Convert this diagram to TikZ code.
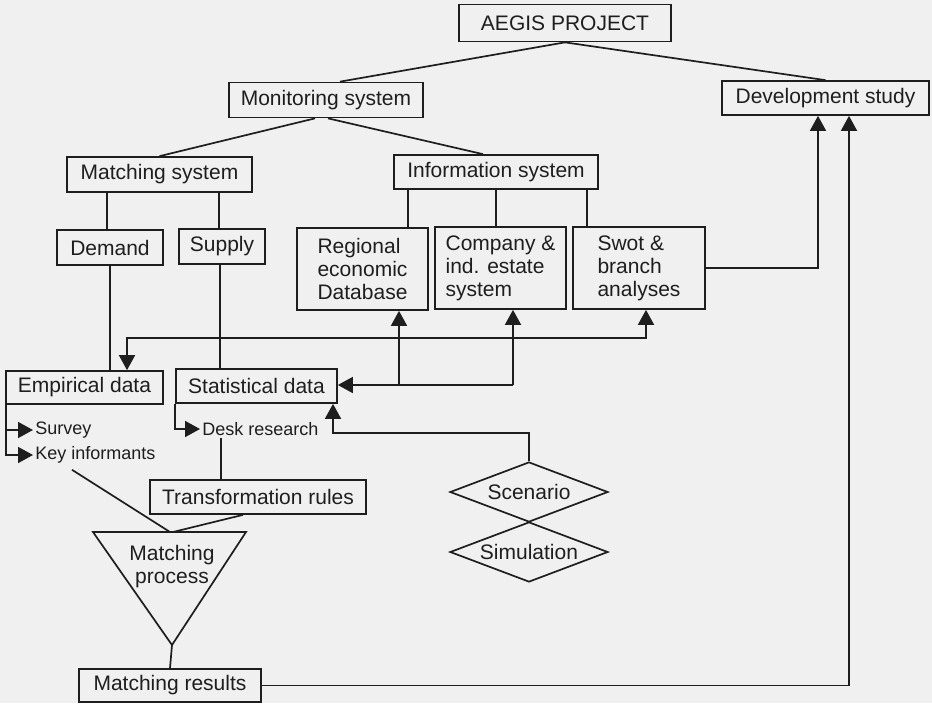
\documentclass[tikz,border=0pt]{standalone}
\usepackage{fontspec}
\setmainfont{Liberation Sans}
\usetikzlibrary{positioning, shapes.geometric, arrows.meta, calc}
\definecolor{ink}{HTML}{1E1E1E}
\definecolor{paper}{HTML}{F0F0F0}

\begin{document}
\begin{tikzpicture}[x = 0.5pt, y = -0.5pt,
    every node/.style = { font = \fontsize{10.5}{11.5}\selectfont, text = ink },
    box/.style = { draw = ink, line width = 0.85pt, align = center, inner sep = 2pt },
    tallbox/.style = { box, align = left, minimum width = 65.5pt, minimum height = 41pt },
    note/.style = { font = \fontsize{9}{10}\selectfont, inner sep = 1pt, anchor = west },
    choice/.style = { draw = ink, line width = 0.85pt, shape = diamond, aspect = 2.63, inner sep = 0pt,
                      minimum width = 79pt, minimum height = 30pt },
    link/.style = { draw = ink, line width = 0.85pt },
    feed/.style = { link, -{Triangle[length = 7.5pt, width = 8pt]} },
    feedboth/.style = { link, {Triangle[length = 7.5pt, width = 8pt]}-{Triangle[length = 7.5pt, width = 8pt]} }]

      \fill[paper] (0,0) rectangle (932,703);
      \useasboundingbox (0,0) rectangle (932,703);

      \node[box, minimum width = 106pt, minimum height = 18.5pt] (aegis) at (565,23) {AEGIS PROJECT};
      \node[box, minimum width = 97pt, minimum height = 17.5pt] (monitor) at (326,100) {Monitoring system};
      \node[box, minimum width = 103.5pt, minimum height = 17pt] (develop) at (825.5,98) {Development study};
      \node[box, minimum width = 92.5pt, minimum height = 17.5pt] (matchsys) at (159.5,174.5) {Matching system};
      \node[box, minimum width = 102pt, minimum height = 17pt] (infosys) at (496,172) {Information system};
      \node[box, minimum width = 53pt, minimum height = 17.5pt] (demand) at (110,247.5) {Demand};
      \node[box, minimum width = 43pt, minimum height = 17.5pt] (supply) at (222,246.5) {Supply};
      \node[tallbox] (regional) at (362.5,269) {Regional\\economic\\Database};
      \node[tallbox] (company) at (500.5,268) {Company \&\\ind. estate\\system};
      \node[tallbox, minimum width = 66pt] (swot) at (639,268) {Swot \&\\branch\\analyses};
      \node[box, minimum width = 78.5pt, minimum height = 16.5pt] (empirical) at (84.5,387.5) {Empirical data};
      \node[box, minimum width = 80.5pt, minimum height = 17pt] (statistical) at (256.5,386) {Statistical data};
      \node[note] (survey) at (33,430) {Survey};
      \node[note] (keyinf) at (33,455) {Key informants};
      \node[note] (desk) at (200,429) {Desk research};
      \node[box, minimum width = 108pt, minimum height = 17pt] (transform) at (258,497) {Transformation rules};
      \node[choice] (scenario) at (529,492) {Scenario};
      \node[choice] (simulation) at (529,552) {Simulation};

      % matching process funnel
      \coordinate (mpleft) at (93,532);
      \coordinate (mpright) at (246,532);
      \coordinate (mpbottom) at (172,645);
      \coordinate (mptop) at (170,532);
      \draw[link] (mpleft) -- (mpright) -- (mpbottom) -- cycle;
      \node[align = center] (mprocess) at (172,567) {Matching\\process};
      \node[box, minimum width = 91pt, minimum height = 16.5pt] (matchres) at (170,685.5) {Matching results};

      % tree
      \draw[link] (aegis.south) -- ($(monitor.north)+(14,0)$);
      \draw[link] (aegis.south) -- (develop.north);
      \draw[link] ($(monitor.south)+(-11,0)$) -- (matchsys.north);
      \draw[link] ($(monitor.south)+(2,0)$) -- ($(infosys.north)+(-13,0)$);
      \foreach \n in {demand, supply}
        \draw[link] ($(\n.north)+(-3,0)$) -- ($(\n.north |- matchsys.south)+(-3,0)$);
      \foreach \dx/\n in {-88/regional, 0/company, 91/swot}
        \draw[link] ($(infosys.south)+(\dx,0)$) -- ($(\n.north -| infosys.south)+(\dx,0)$);
      \draw[link] (demand.south) -- (demand.south |- empirical.north);
      \draw[link] ($(supply.south)+(-2,0)$) -- ($(supply.south |- statistical.north)+(-2,0)$);

      % data flows
      \coordinate (busleft) at (127,338);
      \coordinate (busright) at (646,338);
      \draw[feedboth] (busleft |- empirical.north) -- (busleft) -- (busright) -- (busright |- swot.south);
      \coordinate (feedleft) at (399,385);
      \coordinate (feedright) at (513,385);
      \draw[feed] (feedleft) -- (feedleft |- regional.south);
      \draw[feed] (feedright) -- (feedright |- company.south);
      \draw[feed] (feedright) -- (feedright -| statistical.east);
      \draw[feed] (swot.east) -| ($(develop.south)+(-7.5,0)$);
      \draw[feed] (matchres.east) -| ($(develop.south)+(23.5,0)$);
      \draw[feed] (scenario.north) -- ++(0,-28) -| ($(statistical.south)+(76.5,0)$);
      \draw[feed] (statistical.south west) |- (desk.west);
      \coordinate (emptrunk) at ($(empirical.south west)+(1,0)$);
      \draw[feed] (emptrunk) |- (survey.west);
      \draw[feed] (emptrunk) |- (keyinf.west);
      \draw[link] ($(transform.north)+(-37,0)$) -- ($(desk.south -| transform.north)+(-37,0)$);
      \draw[link] ($(keyinf.south west)+(39,4)$) -- (mptop);
      \draw[link] ($(transform.south)+(-15,0)$) -- ($(mptop)+(3,0)$);
      \draw[link] (mpbottom) -- (matchres.north);

\end{tikzpicture}
\end{document}
